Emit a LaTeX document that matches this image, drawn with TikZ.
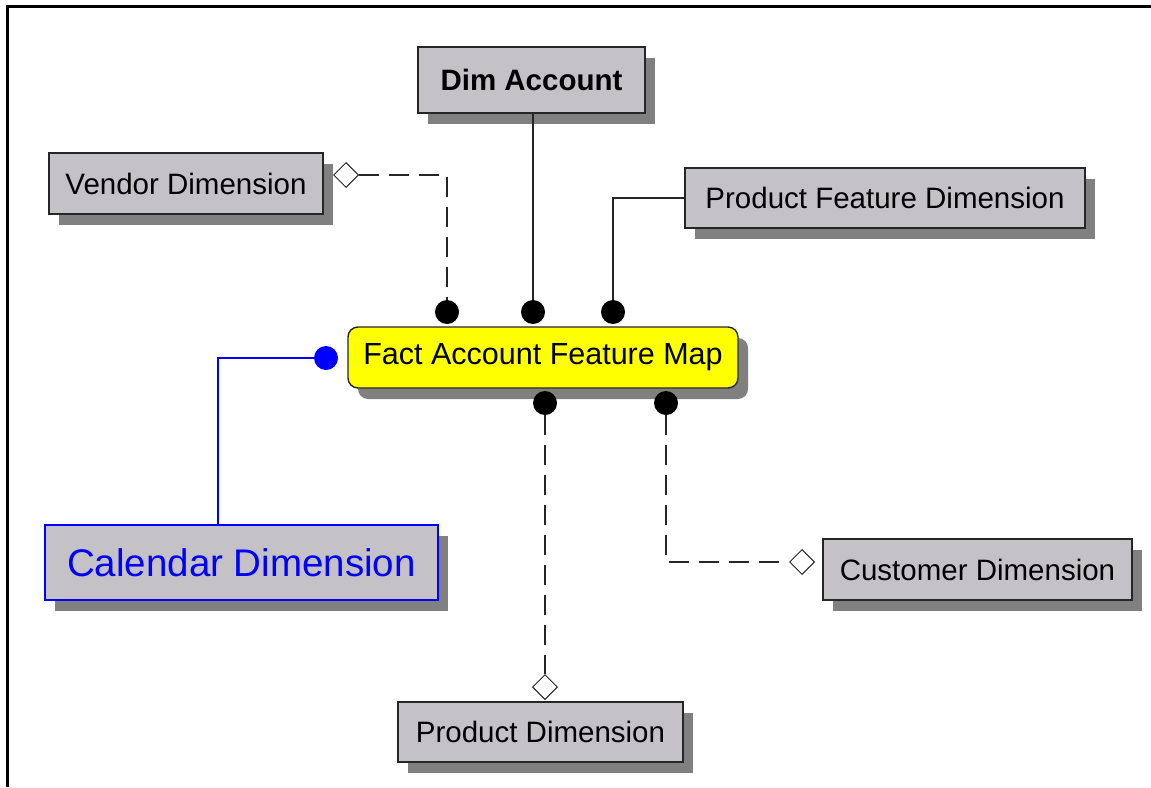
\documentclass[tikz,border=0pt]{standalone}
\usepackage{fontspec}
\setmainfont{Liberation Sans}
\usetikzlibrary{shapes.geometric,shadows}
\definecolor{boxgray}{RGB}{196,194,199}
\definecolor{factyellow}{RGB}{255,255,0}
\definecolor{linkblue}{RGB}{0,0,255}
\tikzset{
  dimbox/.style={draw=black!85, line width=1.4pt, fill=boxgray, inner sep=0pt,
    font=\fontsize{29.5}{34}\selectfont, text=black,
    drop shadow={shadow xshift=10pt, shadow yshift=-11pt, fill=black!50, opacity=1}},
  factbox/.style={dimbox, fill=factyellow, rounded corners=10pt},
  dotnode/.style={circle, fill=black, inner sep=0pt, minimum size=24pt},
  diam/.style={diamond, draw=black!85, fill=white, line width=1pt, inner sep=0pt,
    minimum width=25pt, minimum height=25pt},
  conn/.style={line width=1.5pt, black!85},
  dashconn/.style={conn, dash pattern=on 20pt off 10pt},
}
\begin{document}
\begin{tikzpicture}[x=1pt,y=-1pt]
\useasboundingbox (0,0) rectangle (1151,787);
% frame (top and left visible)
\draw[line width=3pt] (7.5,787) -- (7.5,6) -- (1151,6);

% boxes
\node[dimbox, minimum width=274pt, minimum height=61pt] (vendor) at (186,183.5) {Vendor Dimension};
\node[dimbox, minimum width=227pt, minimum height=66pt, font=\fontsize{29.5}{34}\selectfont\bfseries] (acc) at (531.5,80) {Dim Account};
\node[dimbox, minimum width=400pt, minimum height=60pt] (pfd) at (885,198) {Product Feature Dimension};
\node[factbox, minimum width=390pt, minimum height=61pt, font=\fontsize{30.5}{35}\selectfont] (fact) at (543,357.5) {Fact Account Feature Map};
\node[dimbox, draw=linkblue, line width=1.2pt, text=linkblue, minimum width=393pt, minimum height=75pt, font=\fontsize{38.5}{44}\selectfont] (cal) at (241.5,562.5) {Calendar Dimension};
\node[dimbox, minimum width=309pt, minimum height=61pt] (cust) at (977.5,569.5) {Customer Dimension};
\node[dimbox, minimum width=285pt, minimum height=60pt] (prod) at (540.5,732) {Product Dimension};

% dots on fact box
\node[dotnode] (d1) at (447,312) {};
\node[dotnode] (d2) at (533,312) {};
\node[dotnode] (d3) at (613,312) {};
\node[dotnode] (d4) at (545,403) {};
\node[dotnode] (d5) at (666,403) {};
\node[dotnode, fill=linkblue] (bdot) at (326,358) {};

% diamonds
\node[diam] (vdia) at (346,175) {};
\node[diam] (pdia) at (545,687) {};
\node[diam] (cdia) at (802,562) {};

% helper for the calendar link column
\coordinate (calx) at (218,0);

% connectors
\draw[dashconn] (vdia.east) -| (d1.north);
\draw[conn] (d2 |- acc.south) -- (d2.north);
\draw[conn] (pfd.west) -| (d3.north);
\draw[dashconn] (d4.south) -- (pdia.north);
\draw[dashconn] (d5.south) |- (cdia.west);
\draw[line width=1.3pt, linkblue] (bdot.west) -| (calx |- cal.north);
\end{tikzpicture}
\end{document}
